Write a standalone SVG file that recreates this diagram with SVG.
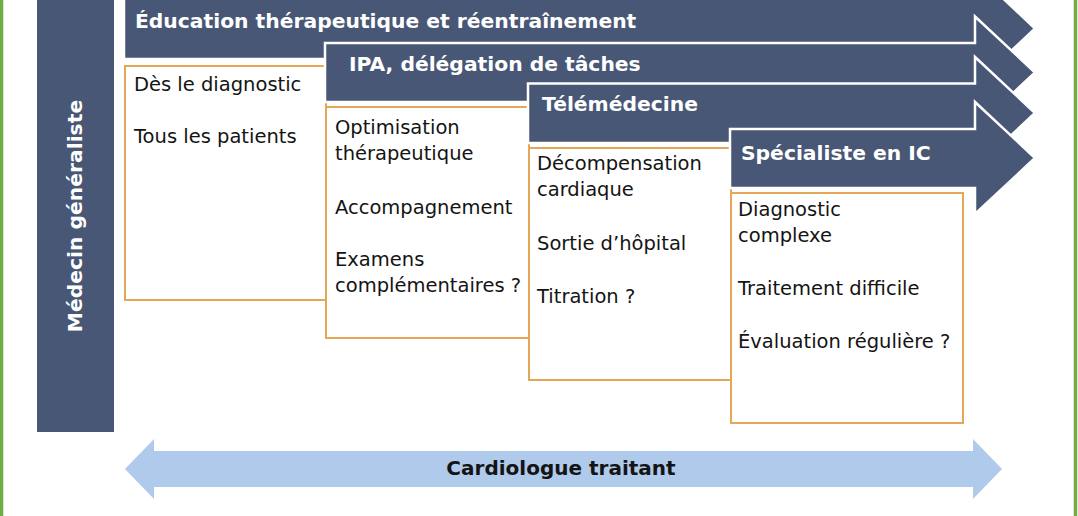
<svg xmlns="http://www.w3.org/2000/svg" width="1078" height="516" viewBox="0 0 1078 516">
<style>
.band{fill:#485776;stroke:#fff;stroke-width:2.5;stroke-linejoin:miter}
.bar{fill:#485776}
.box{fill:#fff;stroke:#E3A857;stroke-width:2}
.title{font-family:"DejaVu Sans",sans-serif;font-weight:bold;font-size:20.3px;fill:#fff}
.txt{font-family:"DejaVu Sans",sans-serif;font-size:19.5px;fill:#141414}
.lbl{font-family:"DejaVu Sans",sans-serif;font-weight:bold;font-size:20px;fill:#141414}
.frame{stroke:#70AD47;stroke-width:3.5}
.dbl{fill:#AFCAEA}
</style>
<rect width="1078" height="516" fill="#fff"/>
<line class="frame" x1="1.5" y1="0" x2="1.5" y2="516"/>
<line class="frame" x1="1075.5" y1="0" x2="1075.5" y2="516"/>

<g id="medecin-generaliste">
<rect class="bar" x="37" y="-2" width="77" height="434"/>
<text class="title" transform="translate(82,216) rotate(-90)" text-anchor="middle">Médecin généraliste</text>
</g>

<g id="education">
<path class="band" d="M124,-2 H975 V-28 L1035,28.5 L975,85 V59 H124 Z"/>
<text class="title" x="135" y="28">Éducation thérapeutique et réentraînement</text>
<rect class="box" x="125" y="66" width="201" height="234"/>
<text class="txt" x="134" y="91">Dès le diagnostic</text>
<text class="txt" x="134" y="143">Tous les patients</text>
</g>

<g id="ipa">
<path class="band" d="M325,43 H975 V16.5 L1035,72.5 L975,128.5 V102 H325 Z"/>
<text class="title" x="349" y="71">IPA, délégation de tâches</text>
<rect class="box" x="326" y="107" width="203" height="231"/>
<text class="txt" x="335" y="134">Optimisation</text>
<text class="txt" x="335" y="160">thérapeutique</text>
<text class="txt" x="335" y="214">Accompagnement</text>
<text class="txt" x="335" y="266">Examens</text>
<text class="txt" x="335" y="292">complémentaires ?</text>
</g>

<g id="telemedecine">
<path class="band" d="M528,83.5 H975 V57 L1035,113 L975,169 V143 H528 Z"/>
<text class="title" x="542" y="111">Télémédecine</text>
<rect class="box" x="529" y="148" width="202" height="232"/>
<text class="txt" x="537" y="170">Décompensation</text>
<text class="txt" x="537" y="196">cardiaque</text>
<text class="txt" x="537" y="250">Sortie d’hôpital</text>
<text class="txt" x="537" y="303">Titration ?</text>
</g>

<g id="specialiste-ic">
<path class="band" d="M730,129 H975 V102 L1035,158 L975,214 V188 H730 Z"/>
<text class="title" x="741" y="160">Spécialiste en IC</text>
<rect class="box" x="731" y="193" width="232" height="230"/>
<text class="txt" x="738" y="216">Diagnostic</text>
<text class="txt" x="738" y="242">complexe</text>
<text class="txt" x="738" y="295">Traitement difficile</text>
<text class="txt" x="738" y="348">Évaluation régulière ?</text>
</g>

<g id="connectors">
<g id="cardiologue-traitant">
<path class="dbl" d="M125,469 L154,439 V451 H973 V439 L1002,469 L973,499 V487 H154 V499 Z"/>
<text class="lbl" x="561" y="475" text-anchor="middle">Cardiologue traitant</text>
</g>
</g>
</svg>
